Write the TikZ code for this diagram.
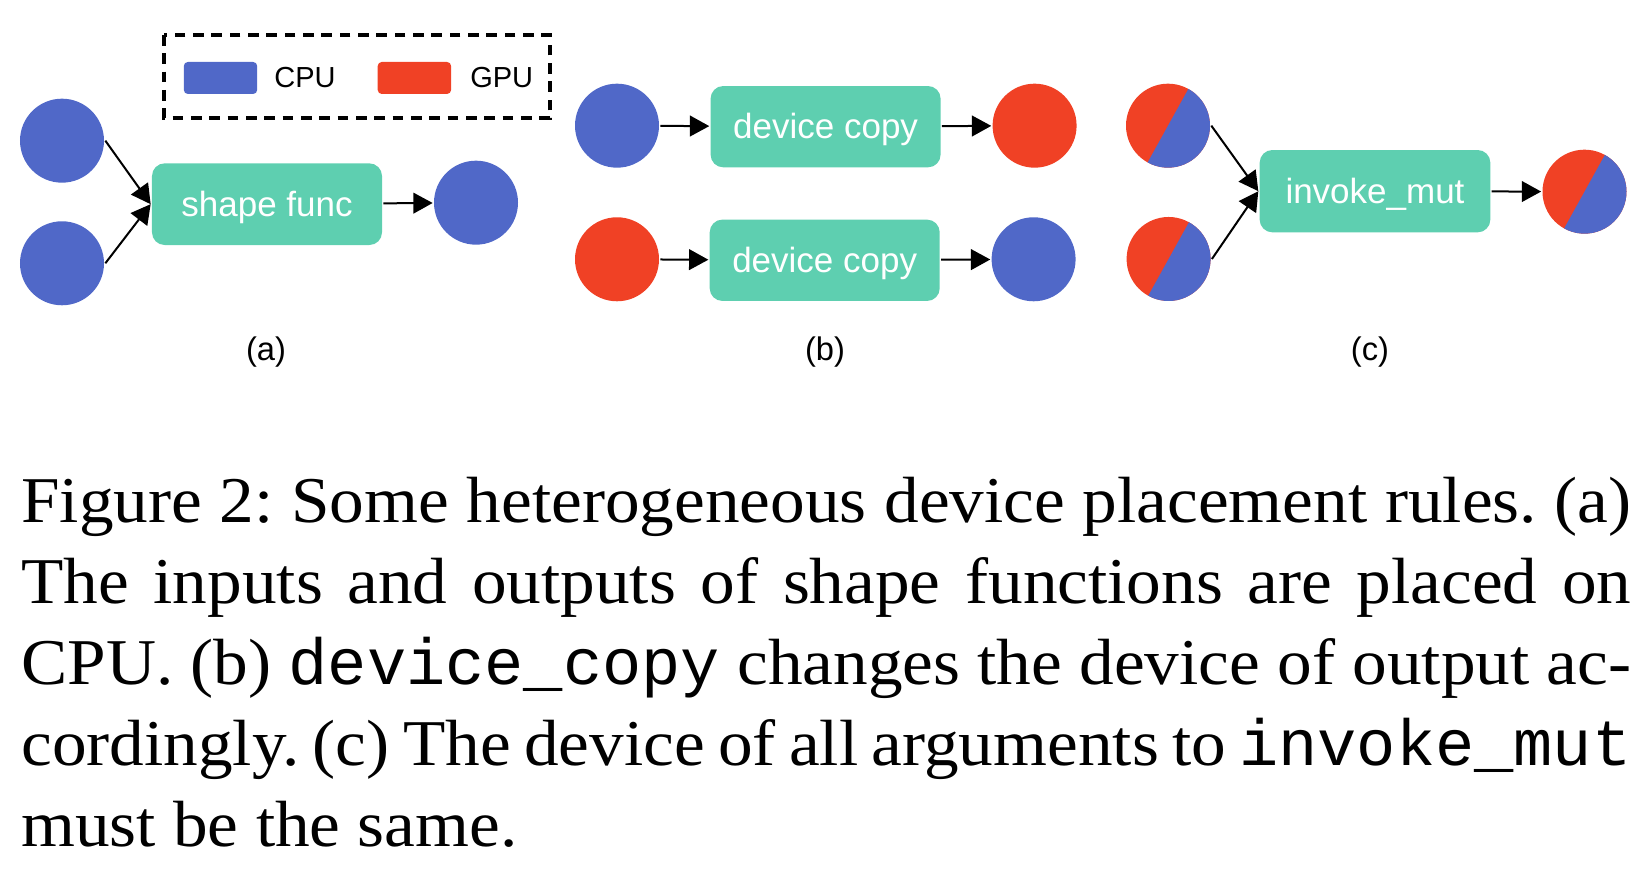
\documentclass[tikz,border=0pt]{standalone}
\usepackage{fontspec}
\setmainfont{Liberation Serif}[FakeStretch=1.06]
\setsansfont{Liberation Sans}
\setmonofont{Liberation Mono}
\usepackage{tikz}
\usetikzlibrary{arrows.meta,positioning,calc}

\definecolor{cpublue}{RGB}{80,104,200}
\definecolor{gpured}{RGB}{240,65,37}
\definecolor{opgreen}{RGB}{94,207,176}

\tikzset{
    tensor/.style={circle, minimum size=12.6pt, inner sep=0pt},
    cpu/.style={tensor, fill=cpublue},
    gpu/.style={tensor, fill=gpured},
    mixed/.style={tensor, fill=gpured, path picture={
        \coordinate (pc) at (path picture bounding box.center);
        \fill[cpublue] ($(pc)+(61:8pt)$) -- ($(pc)+(241:8pt)$) -- ($(pc)+(241:8pt)+(-29:8pt)$)
            -- ($(pc)+(61:8pt)+(-29:8pt)$) -- cycle;}},
    op/.style={rounded corners=1.9pt, fill=opgreen, text=white, minimum height=12.25pt,
        minimum width=34.5pt, inner sep=0pt, text height=3.76pt, text depth=0.2pt,
        font=\sffamily\fontsize{5.25}{6}\selectfont},
    arr/.style={-{Triangle[length=2.9pt,width=3.1pt]}, line width=0.3pt},
    sublabel/.style={font=\sffamily\fontsize{4.9}{6}\selectfont},
    swatch/.style={rounded corners=0.6pt, minimum width=11pt, minimum height=4.8pt, inner sep=0pt},
    legtext/.style={anchor=west, inner sep=0pt, font=\sffamily\fontsize{4.35}{5}\selectfont},
}

\begin{document}
\begin{tikzpicture}[x=0.15pt, y=-0.15pt]
    \useasboundingbox (0,0) rectangle (1644,877);

    % legend
    \draw[line width=0.48pt, dash pattern=on 1.6pt off 1.15pt] (164,35) rectangle (550,118);
    \node[swatch, fill=cpublue] (lcpu) at (220.5,78) {};
    \node[legtext] (lcputxt) at (273,78) {CPU};
    \node[swatch, fill=gpured] (lgpu) at (414.4,78) {};
    \node[legtext] (lgputxt) at (469,78) {GPU};

    % (a) shape func
    \node[cpu] (ain1) at (62,140.7) {};
    \node[cpu] (ain2) at (62,263.3) {};
    \node[op] (afn) at (267,204.2) {shape func};
    \node[cpu] (aout) at (476,202.7) {};
    \draw[arr] (ain1.east) -- (afn.west);
    \draw[arr] (ain2.east) -- (afn.west);
    \draw[arr] (afn) -- (aout);
    \node[sublabel] (alab) at (266,352) {(a)};

    % (b) device copy
    \node[cpu] (bin1) at (617,125.7) {};
    \node[op, minimum height=12.2pt] (bfn1) at (825.6,126.7) {device copy};
    \node[gpu] (bout1) at (1034.6,125.7) {};
    \node[gpu] (bin2) at (617,259.3) {};
    \node[op, minimum height=12.2pt] (bfn2) at (824.7,260.3) {device copy};
    \node[cpu] (bout2) at (1033.6,259.3) {};
    \draw[arr] (bin1) -- (bfn1);
    \draw[arr] (bfn1) -- (bout1);
    \draw[arr] (bin2) -- (bfn2);
    \draw[arr] (bfn2) -- (bout2);
    \node[sublabel] (blab) at (825,352) {(b)};

    % (c) invoke_mut
    \node[mixed] (cin1) at (1168,125.7) {};
    \node[mixed] (cin2) at (1168.6,259) {};
    \node[op, minimum width=34.6pt, minimum height=12.35pt] (cfn) at (1375,191.2) {invoke\_mut};
    \node[mixed] (cout) at (1584.5,191.7) {};
    \draw[arr] (cin1.east) -- (cfn.west);
    \draw[arr] (cin2.east) -- (cfn.west);
    \draw[arr] (cfn) -- (cout);
    \node[sublabel] (clab) at (1370,352) {(c)};

    % caption
    \node[anchor=base west, inner sep=0pt, text width=241.5pt, align=justify,
        font=\rmfamily\frenchspacing\fontsize{9.8}{12.15}\selectfont] (cap) at (20,523)
        {\noindent Figure 2: Some heterogeneous device placement rules. (a)\linebreak
        The inputs and outputs of shape functions are placed on\linebreak
        CPU. (b) \texttt{device\_copy} changes the device of output ac-\linebreak
        cordingly. (c) The device of all arguments to \texttt{invoke\_mut}\linebreak
        must be the same.};
\end{tikzpicture}
\end{document}
